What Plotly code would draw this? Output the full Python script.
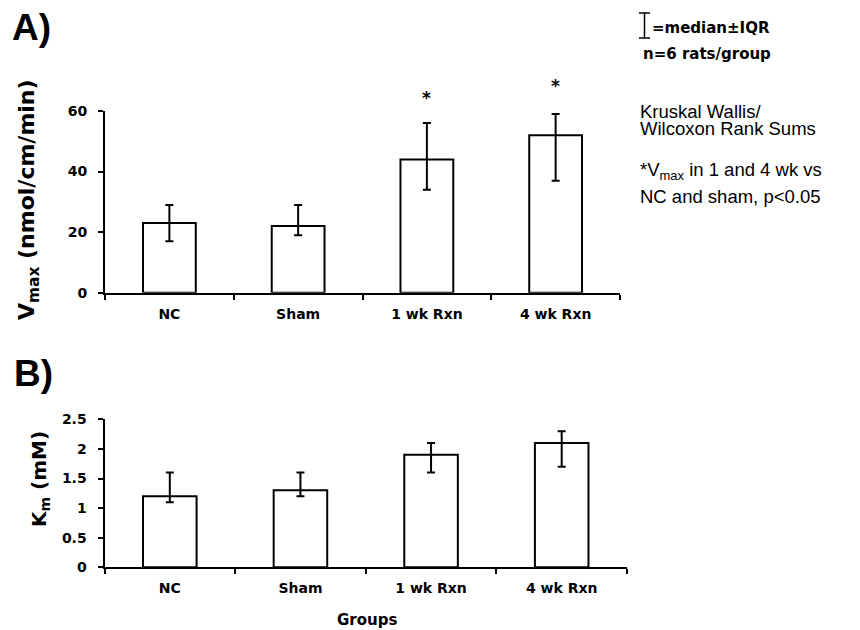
import plotly.graph_objects as go

# Groups and measured kinetics (median with interquartile range)
groups = ["NC", "Sham", "1 wk Rxn", "4 wk Rxn"]

vmax_median = [23, 22, 44, 52]
vmax_q3 = [29, 29, 56, 59]
vmax_q1 = [17, 19, 34, 37]

km_median = [1.2, 1.3, 1.9, 2.1]
km_q3 = [1.6, 1.6, 2.1, 2.3]
km_q1 = [1.1, 1.2, 1.6, 1.7]

# Groups flagged as significantly different in Vmax, with star heights
star_groups = ["1 wk Rxn", "4 wk Rxn"]
star_heights = [66, 70]

W, H = 860, 630


def px(x):
    return x / W


def py(y):
    return 1 - y / H


BOLD = "DejaVu Sans"
SANS = "Liberation Sans, Arial"

VMAX_RANGE = [0, 60]
VMAX_DOMAIN = [py(292.7), py(111)]
KM_RANGE = [0, 2.5]
KM_DOMAIN = [py(567.3), py(419.3)]


def bar_trace(med, hi, lo, xa, ya):
    return go.Bar(
        x=groups,
        y=med,
        xaxis=xa,
        yaxis=ya,
        marker=dict(color="white", line=dict(color="black", width=2)),
        error_y=dict(
            type="data",
            symmetric=False,
            array=[h - m for h, m in zip(hi, med)],
            arrayminus=[m - l for m, l in zip(med, lo)],
            color="black",
            thickness=2,
            width=4,
        ),
        showlegend=False,
        hoverinfo="skip",
    )


fig = go.Figure()
fig.add_trace(bar_trace(vmax_median, vmax_q3, vmax_q1, "x", "y"))
fig.add_trace(bar_trace(km_median, km_q3, km_q1, "x2", "y2"))

xcommon = dict(
    type="category",
    tickson="boundaries",
    ticks="outside",
    ticklen=5,
    tickwidth=2,
    tickcolor="black",
    showline=True,
    linecolor="black",
    linewidth=2,
    showgrid=False,
    zeroline=False,
    automargin=False,
    tickfont=dict(family=BOLD, size=14, color="black", weight="bold"),
    ticklabelstandoff=7,
)
ycommon = dict(
    ticks="outside",
    ticklen=5,
    tickwidth=2,
    tickcolor="black",
    showline=True,
    linecolor="black",
    linewidth=2,
    showgrid=False,
    zeroline=False,
    automargin=False,
    tickfont=dict(family=BOLD, size=14, color="black", weight="bold"),
    ticklabelstandoff=8,
)

fig.update_layout(
    width=W,
    height=H,
    margin=dict(l=0, r=0, t=0, b=0, pad=0, autoexpand=False),
    paper_bgcolor="white",
    plot_bgcolor="white",
    bargap=0.59,
    xaxis=dict(xcommon, domain=[px(105), px(620)], anchor="y"),
    yaxis=dict(ycommon, domain=VMAX_DOMAIN, anchor="x",
               range=VMAX_RANGE, tickvals=[0, 20, 40, 60]),
    xaxis2=dict(xcommon, domain=[px(104.5), px(627)], anchor="y2"),
    yaxis2=dict(ycommon, domain=KM_DOMAIN, anchor="x2",
                range=KM_RANGE, tickvals=[0, 0.5, 1, 1.5, 2, 2.5],
                ticktext=["0", "0.5", "1", "1.5", "2", "2.5"]),
)

ann = []
# Panel letters
ann.append(dict(text="A)", x=px(10), y=py(28), xref="paper", yref="paper",
                xanchor="left", yanchor="middle", showarrow=False,
                font=dict(family=SANS, size=37, color="black", weight="bold")))
ann.append(dict(text="B)", x=px(12), y=py(373), xref="paper", yref="paper",
                xanchor="left", yanchor="middle", showarrow=False,
                font=dict(family=SANS, size=37, color="black", weight="bold")))
# Axis titles
ann.append(dict(text="V<sub>max</sub> (nmol/cm/min)", x=px(28), y=py(200),
                xref="paper", yref="paper", textangle=-90, showarrow=False,
                xanchor="center", yanchor="middle",
                font=dict(family=BOLD, size=22, color="black", weight="bold")))
ann.append(dict(text="K<sub>m</sub> (mM)", x=px(40), y=py(479),
                xref="paper", yref="paper", textangle=-90, showarrow=False,
                xanchor="center", yanchor="middle",
                font=dict(family=BOLD, size=20, color="black", weight="bold")))
ann.append(dict(text="Groups", x=px(367), y=py(620), xref="paper", yref="paper",
                xanchor="center", yanchor="middle", showarrow=False,
                font=dict(family=BOLD, size=15, color="black", weight="bold")))

# Significance stars: the Vmax value is mapped onto the panel's vertical extent
for g, h in zip(star_groups, star_heights):
    frac = (h - VMAX_RANGE[0]) / (VMAX_RANGE[1] - VMAX_RANGE[0])
    ypaper = VMAX_DOMAIN[0] + frac * (VMAX_DOMAIN[1] - VMAX_DOMAIN[0])
    ann.append(dict(text="*", x=g, y=ypaper, xref="x", yref="paper",
                    xanchor="center", yanchor="middle", showarrow=False,
                    yshift=-5,
                    font=dict(family=BOLD, size=17, color="black", weight="bold")))

# Side notes
ann.append(dict(text="=median\u00b1IQR", x=px(650), y=py(28), xref="paper",
                yref="paper", xanchor="left", yanchor="middle", showarrow=False,
                font=dict(family=BOLD, size=15, color="black", weight="bold")))
ann.append(dict(text="n=6 rats/group", x=px(641), y=py(54), xref="paper",
                yref="paper", xanchor="left", yanchor="middle", showarrow=False,
                font=dict(family=BOLD, size=15, color="black", weight="bold")))
for txt, yy in [("Kruskal Wallis/", 111), ("Wilcoxon Rank Sums", 129),
                ("*V<sub>max</sub> in 1 and 4 wk vs", 171),
                ("NC and sham, p<0.05", 196)]:
    ann.append(dict(text=txt, x=px(638), y=py(yy), xref="paper", yref="paper",
                    xanchor="left", yanchor="middle", showarrow=False,
                    font=dict(family=SANS, size=18.5, color="black")))
fig.update_layout(annotations=ann)

# Error-bar key glyph beside "=median±IQR"
key = dict(type="line", xref="paper", yref="paper",
           line=dict(color="black", width=1.5))
fig.update_layout(shapes=[
    dict(key, x0=px(644.5), x1=px(644.5), y0=py(13), y1=py(38)),
    dict(key, x0=px(639), x1=px(650), y0=py(13), y1=py(13)),
    dict(key, x0=px(639), x1=px(650), y0=py(38), y1=py(38)),
])

fig.write_html("out.html")
